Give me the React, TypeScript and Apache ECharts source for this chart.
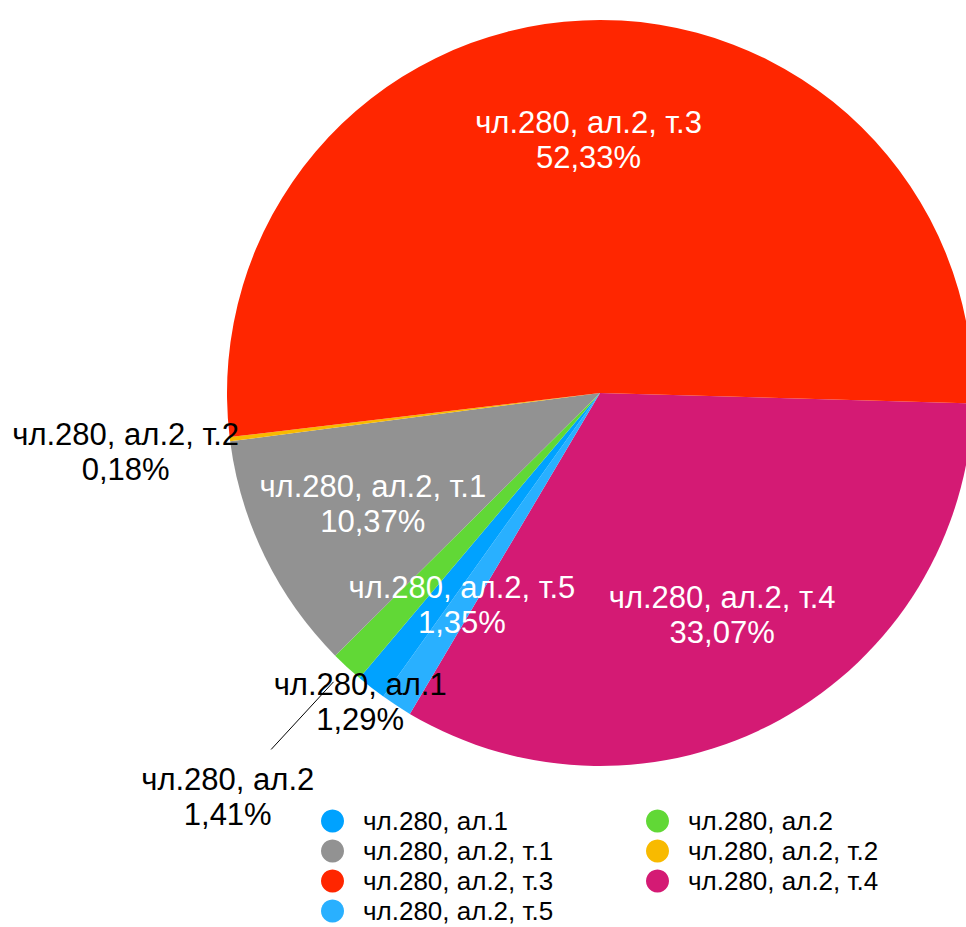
import React, { useEffect, useRef } from "react";
import * as echarts from "echarts";

// Slice order as drawn, clockwise from the right (3 o'clock)
const categories = [
  "чл.280, ал.2, т.4",
  "чл.280, ал.2, т.5",
  "чл.280, ал.1",
  "чл.280, ал.2",
  "чл.280, ал.2, т.1",
  "чл.280, ал.2, т.2",
  "чл.280, ал.2, т.3",
];
const shares = [33.07, 1.35, 1.29, 1.41, 10.37, 0.18, 52.33];
const colors = ["#D41A74", "#29B0FF", "#00A2FF", "#61D836", "#929292", "#F8BA00", "#FF2600"];

const legendLeftNames = ["чл.280, ал.1", "чл.280, ал.2, т.1", "чл.280, ал.2, т.3", "чл.280, ал.2, т.5"];
const legendRightNames = ["чл.280, ал.2", "чл.280, ал.2, т.2", "чл.280, ал.2, т.4"];

const innerLabelNames = ["чл.280, ал.2, т.3", "чл.280, ал.2, т.4", "чл.280, ал.2, т.1", "чл.280, ал.2, т.5"];
const nearLabelNames = ["чл.280, ал.1"];
const midLabelNames = ["чл.280, ал.2, т.2"];
const farLabelNames = ["чл.280, ал.2"];

const FONT = "'Liberation Sans', Arial, Helvetica, sans-serif";
const CENTER = [600, 393];
const R = 373;
const START = -1.6;

function fmt(p: any) {
  return `${p.name}\n${Number(p.value).toFixed(2).replace(".", ",")}%`;
}

function labelSeries(radius: number[], names: string[], color: string) {
  return {
    type: "pie",
    center: CENTER,
    radius,
    startAngle: START,
    clockwise: true,
    silent: true,
    avoidLabelOverlap: false,
    emphasis: { disabled: true },
    itemStyle: { color: "rgba(0,0,0,0)", borderWidth: 0 },
    labelLine: { show: false },
    data: categories.map((c, i) => ({
      name: c,
      value: shares[i],
      itemStyle: { color: "rgba(0,0,0,0)" },
      label: {
        show: names.includes(c),
        position: "inside",
        formatter: fmt,
        color,
        fontFamily: FONT,
        fontSize: 31,
        lineHeight: 35,
        align: "center",
      },
    })),
  };
}

function legendItem(name: string) {
  const i = categories.indexOf(name);
  return { name, itemStyle: { color: colors[i] } };
}

export default function App() {
  const ref = useRef<HTMLDivElement>(null);
  useEffect(() => {
    if (!ref.current) return;
    const chart = echarts.init(ref.current, undefined, { renderer: "svg" });
    const legendCommon = {
      orient: "vertical",
      top: 808,
      height: 130,
      padding: 0,
      itemGap: 4,
      itemWidth: 23,
      itemHeight: 23,
      icon: "circle",
      selectedMode: false,
      textStyle: {
        fontFamily: FONT,
        fontSize: 26,
        lineHeight: 26,
        color: "#000",
        padding: [0, 0, 0, 14],
      },
    };
    chart.setOption({
      animation: false,
      backgroundColor: "#fff",
      legend: [
        { ...legendCommon, left: 321, data: legendLeftNames.map(legendItem) },
        { ...legendCommon, left: 646, data: legendRightNames.map(legendItem) },
      ],
      series: [
        {
          type: "pie",
          center: CENTER,
          radius: R,
          startAngle: START,
          clockwise: true,
          avoidLabelOverlap: false,
          label: { show: false },
          labelLine: { show: false },
          emphasis: { disabled: true },
          data: categories.map((c, i) => ({
            name: c,
            value: shares[i],
            itemStyle: { color: colors[i] },
          })),
        },
        // leader line for "чл.280, ал.2"
        {
          type: "pie",
          center: CENTER,
          radius: [0, 393],
          startAngle: START,
          clockwise: true,
          silent: true,
          avoidLabelOverlap: false,
          emphasis: { disabled: true },
          data: categories.map((c, i) => ({
            name: c,
            value: shares[i],
            itemStyle: { color: "rgba(0,0,0,0)" },
            label: {
              show: farLabelNames.includes(c),
              position: "outside",
              formatter: " ",
              color: "rgba(0,0,0,0)",
            },
            labelLine: {
              show: farLabelNames.includes(c),
              length: 92,
              length2: 0,
              lineStyle: { color: "#000", width: 1 },
            },
          })),
        },
        labelSeries([127, 373], innerLabelNames, "#fff"),
        labelSeries([373, 403], nearLabelNames, "#000"),
        labelSeries([450, 500], midLabelNames, "#000"),
        labelSeries([520, 572], farLabelNames, "#000"),
      ],
    });
    return () => chart.dispose();
  }, []);
  return (
    <div
      ref={ref}
      style={{ position: "absolute", left: 0, top: 0, width: 966, height: 927 }}
    />
  );
}
